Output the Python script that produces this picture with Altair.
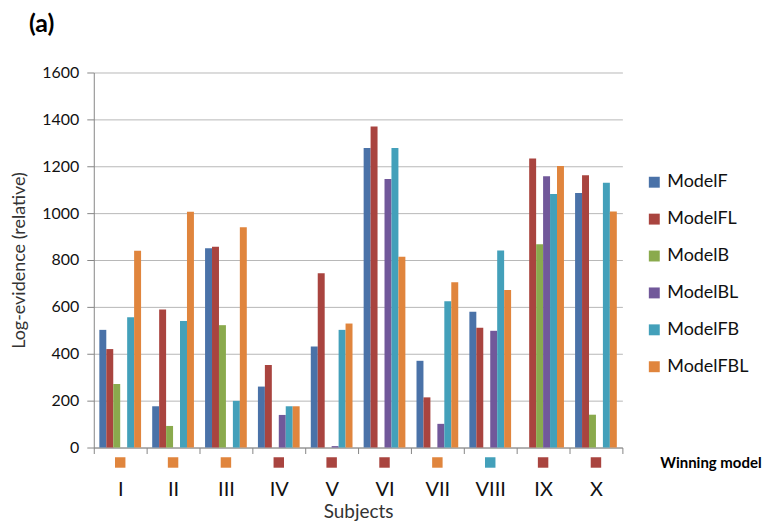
import altair as alt
import pandas as pd

subjects = ["I", "II", "III", "IV", "V", "VI", "VII", "VIII", "IX", "X"]
models = ["ModelF", "ModelFL", "ModelB", "ModelBL", "ModelFB", "ModelFBL"]
colors = ["#4A72A8", "#A9443F", "#8AAA4D", "#71589A", "#43A0BA", "#E0853D"]

model_f = [502, 176, 850, 260, 431, 1278, 370, 579, None, 1086]
model_fl = [420, 589, 857, 352, 743, 1370, 214, 511, 1233, 1162]
model_b = [271, 92, 522, None, None, None, None, None, 867, 140]
model_bl = [None, None, None, 139, 6, 1146, 101, 498, 1157, None]
model_fb = [556, 540, 199, 176, 502, 1278, 624, 841, 1082, 1130]
model_fbl = [840, 1006, 940, 176, 529, 814, 705, 672, 1201, 1007]
winning = ["ModelFBL", "ModelFBL", "ModelFBL", "ModelFL", "ModelFL",
           "ModelFL", "ModelFBL", "ModelFB", "ModelFL", "ModelFL"]
y_ticks = [0, 200, 400, 600, 800, 1000, 1200, 1400, 1600]

series = [model_f, model_fl, model_b, model_bl, model_fb, model_fbl]
rows = []
for m, vals in zip(models, series):
    for s, v in zip(subjects, vals):
        if v is not None:
            rows.append({"subject": s, "model": m, "value": v})
df = pd.DataFrame(rows)
win_df = pd.DataFrame({"subject": subjects, "model": winning})

W, H = 530, 376
FONT = "Lato"

color_scale = alt.Scale(domain=models, range=colors)

x_enc = alt.X(
    "subject:N", sort=subjects,
    scale=alt.Scale(domain=subjects, paddingInner=0, paddingOuter=0),
    axis=alt.Axis(title="Subjects", labelAngle=0, tickBand="extent",
                  tickSize=6, tickColor="#868686", domainColor="#868686",
                  labelPadding=26, labelFontSize=20, labelFont=FONT,
                  labelColor="#111111", titleFontSize=19, titleFont=FONT,
                  titleFontWeight="normal", titleColor="#333333",
                  titlePadding=3, grid=False),
)

bars = alt.Chart(df).mark_bar().encode(
    x=x_enc,
    xOffset=alt.XOffset("model:N", sort=models,
                        scale=alt.Scale(domain=models, paddingInner=0, paddingOuter=0.8)),
    y=alt.Y("value:Q", scale=alt.Scale(domain=[0, 1600], nice=False),
            axis=alt.Axis(values=y_ticks, format="d", title="Log-evidence (relative)",
                          gridColor="#B8B8B8", domainColor="#868686",
                          tickColor="#868686", tickSize=7, labelPadding=8,
                          labelFontSize=16, labelFont=FONT, labelColor="#111111",
                          titleFontSize=18, titleFont=FONT, titleFontWeight="normal",
                          titleColor="#333333", titlePadding=13)),
    color=alt.Color("model:N", scale=color_scale,
                    legend=alt.Legend(title=None, orient="none", legendX=553, legendY=101,
                                      symbolType="square", symbolSize=120,
                                      symbolStrokeWidth=0, labelFontSize=18,
                                      labelFont=FONT, labelColor="#111111",
                                      rowPadding=19, padding=0, labelOffset=4)),
)

squares = alt.Chart(win_df).mark_square(size=110, opacity=1).encode(
    x=alt.X("subject:N", sort=subjects),
    y=alt.value(H + 15),
    color=alt.Color("model:N", scale=color_scale, legend=None),
)

win_label = alt.Chart(pd.DataFrame({"t": ["Winning model"]})).mark_text(
    align="left", baseline="middle", fontSize=15, fontWeight="bold",
    font=FONT, color="#000000"
).encode(text="t:N", x=alt.value(W + 38), y=alt.value(H + 16))

panel_label = alt.Chart(pd.DataFrame({"t": ["(a)"]})).mark_text(
    align="left", baseline="middle", fontSize=25, fontWeight="bold",
    font=FONT, color="#000000"
).encode(text="t:N", x=alt.value(-65), y=alt.value(-49))

chart = alt.layer(bars, squares, win_label, panel_label).properties(
    width=W, height=H,
    padding={"left": 2, "top": 3, "right": 5, "bottom": 0},
).configure_view(stroke=None)

chart.save("out.html", embed_options={"renderer": "svg", "actions": False})
